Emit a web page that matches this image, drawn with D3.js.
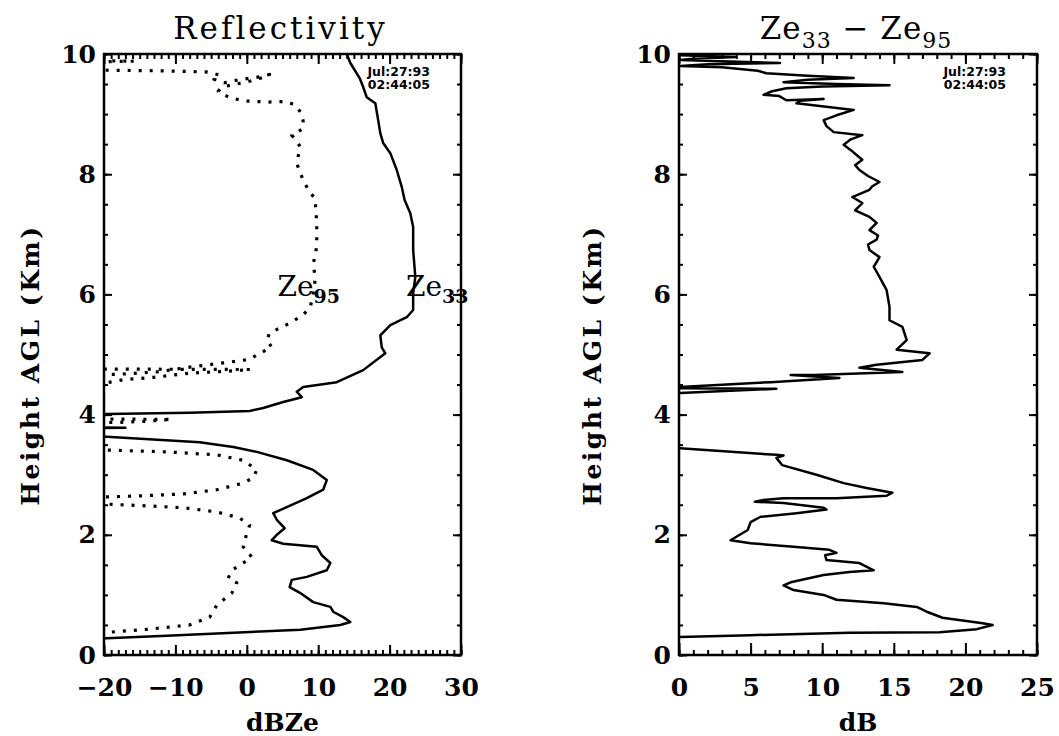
<!DOCTYPE html>
<html>
<head>
<meta charset="utf-8">
<script src="https://cdn.jsdelivr.net/npm/d3@7"></script>
<style>
  body { margin: 0; background: #fff; }
  text { font-family: "DejaVu Serif", serif; fill: #000; }
  .line { fill: none; stroke: #000; stroke-width: 2.5; stroke-linejoin: round; }
  .dots { stroke-width: 3.2; stroke-dasharray: 3, 8; }
  .stamp { font-family: "DejaVu Sans", sans-serif; font-weight: bold; font-size: 12.5px; }
</style>
</head>
<body>
<script>
// [height km, value] pairs; values below the axis (-25) mean no echo
const ze33Profile = [
  [10.3,13.3],[10.0,14.0],[9.85,14.5],[9.60,15.8],[9.45,16.3],[9.28,16.8],[9.18,18.0],[8.90,18.4],
  [8.68,18.7],[8.52,19.1],[8.35,20.1],[8.07,21.0],[7.79,21.7],[7.57,22.1],[7.35,22.9],[7.12,23.3],
  [6.74,23.3],[6.29,23.6],[6.02,23.3],[5.74,23.3],[5.62,22.4],[5.49,20.1],[5.32,18.7],[5.12,18.9],
  [5.02,19.4],[4.74,16.3],[4.54,12.6],[4.46,7.9],[4.38,7.0],[4.29,7.7],[4.21,5.1],[4.11,2.3],
  [4.06,0.4],[4.03,-8.0],[4.01,-19.6],[4.00,-25],[3.79,-25],[3.78,-17],[3.77,-25],[3.64,-25],
  [3.63,-19.6],[3.54,-6.6],[3.46,-1.9],[3.38,1.4],[3.24,5.6],[3.08,9.3],[2.91,11.2],[2.75,10.7],
  [2.61,8.4],[2.46,5.6],[2.36,3.7],[2.25,4.2],[2.11,5.3],[2.00,4.2],[1.91,3.5],[1.85,5.1],
  [1.80,9.8],[1.66,10.5],[1.53,11.7],[1.41,11.2],[1.30,8.4],[1.25,6.3],[1.13,6.0],[1.03,7.5],
  [0.88,9.3],[0.80,11.7],[0.72,12.1],[0.63,13.5],[0.55,14.5],[0.50,13.1],[0.42,7.5],[0.37,-1.9],
  [0.32,-11.2],[0.28,-19.6],[0.27,-25]
];

const ze95Profile = [
  [9.90,-25],[9.89,-20],[9.88,-15.8],[9.86,-25],[9.74,-25],
  [9.73,-19.6],[9.72,-12],[9.70,-5.5],[9.65,-3.8],[9.58,-4.6],[9.52,-3.2],[9.57,-1.2],[9.62,1.8],
  [9.66,3.2],[9.60,2.0],[9.55,0.5],[9.50,-1.5],[9.45,-3.5],[9.38,-4.0],[9.28,-2.5],[9.22,-0.5],
  [9.20,3.0],[9.21,5.5],[9.15,6.8],[9.02,7.6],[8.88,7.9],[8.75,7.8],[8.65,6.3],[8.55,7.0],
  [8.45,7.5],[8.30,7.2],[8.18,7.0],[8.02,7.5],[7.90,7.9],[7.74,8.6],[7.60,9.5],[7.40,9.7],
  [7.10,9.8],[6.80,9.8],[6.50,9.3],[6.27,9.6],[6.02,9.3],[5.79,8.9],[5.66,7.9],[5.52,6.0],
  [5.45,4.8],[5.36,3.2],[5.24,2.8],[5.12,3.5],[5.02,1.8],[4.92,0.4],[4.86,-3.3],[4.79,-8.0],
  [4.71,-12.6],[4.67,-18.2],[4.66,-25],[4.76,-25],[4.75,0.5],[4.72,-3.0],[4.69,-8.0],[4.62,-13.0],
  [4.58,-17.3],[4.53,-19.6],[4.52,-25],[3.93,-25],[3.92,-10.5],[3.89,-14.0],[3.87,-18.0],[3.86,-25],
  [3.42,-25],[3.41,-19.6],[3.38,-11.2],[3.33,-4.2],[3.24,-0.5],[3.08,1.4],[2.95,0.9],[2.86,-0.5],
  [2.75,-4.2],[2.68,-8.9],[2.65,-14.5],[2.63,-19.6],[2.62,-25],[2.52,-25],[2.51,-19.6],[2.48,-13.6],
  [2.45,-8.9],[2.38,-4.2],[2.28,-1.0],[2.16,0.4],[2.03,0.0],[1.80,-0.5],[1.63,0.7],[1.53,-0.5],
  [1.41,-2.1],[1.28,-2.6],[1.20,-1.4],[1.03,-2.1],[0.83,-4.2],[0.63,-5.2],[0.50,-8.0],[0.43,-13.6],
  [0.38,-19.2],[0.37,-25]
];

const diffProfile = [
  [10.05,-1],[9.98,0.1],[9.95,4.0],[9.92,1.0],[9.90,0.1],[9.88,3.0],[9.85,7.05],[9.83,2.0],
  [9.80,0.1],[9.78,3.0],[9.72,5.5],[9.68,6.1],[9.64,9.0],[9.60,12.2],[9.57,9.0],[9.53,7.3],
  [9.50,11.0],[9.48,14.7],[9.46,10.0],[9.43,7.5],[9.38,6.5],[9.32,5.9],[9.30,7.0],[9.23,7.5],
  [9.25,10.1],[9.22,8.5],[9.18,8.2],[9.07,12.2],[8.98,11.0],[8.90,10.1],[8.80,10.3],[8.70,10.8],
  [8.65,12.8],[8.58,12.0],[8.49,11.5],[8.40,12.0],[8.32,12.4],[8.24,12.8],[8.15,12.3],[8.07,12.6],
  [7.97,13.2],[7.87,14.0],[7.80,13.5],[7.74,13.3],[7.62,12.1],[7.52,12.8],[7.40,12.3],[7.29,13.3],
  [7.19,13.8],[7.07,13.3],[6.98,13.9],[6.91,13.8],[6.83,13.2],[6.74,13.3],[6.62,14.0],[6.46,13.6],
  [6.29,14.0],[6.07,14.5],[5.79,14.7],[5.57,14.7],[5.46,15.6],[5.24,15.9],[5.08,15.2],[5.02,17.5],
  [4.91,17.0],[4.83,13.8],[4.78,12.6],[4.71,15.6],[4.66,9.4],[4.66,7.8],[4.61,11.2],[4.54,6.4],
  [4.46,0.07],[4.45,-1],[4.44,-1],[4.43,6.8],[4.36,0.07],[4.35,-1],
  [3.45,-1],[3.44,0.07],[3.33,6.8],[3.32,7.3],[3.28,6.8],[3.16,7.2],[3.00,9.6],[2.86,11.5],
  [2.78,13.1],[2.70,14.9],[2.65,14.5],[2.61,11.0],[2.61,7.3],[2.58,5.9],[2.55,5.3],[2.53,7.3],
  [2.45,10.1],[2.42,10.3],[2.36,8.2],[2.30,5.7],[2.21,5.0],[2.08,4.8],[1.91,3.6],[1.86,5.0],
  [1.80,8.0],[1.75,10.5],[1.70,11.0],[1.66,10.2],[1.58,10.3],[1.53,12.6],[1.41,13.6],[1.38,11.9],
  [1.33,10.1],[1.21,7.8],[1.16,7.3],[1.08,8.0],[1.00,10.1],[0.92,11.0],[0.86,14.3],[0.80,16.6],
  [0.72,17.3],[0.62,18.4],[0.53,21.2],[0.50,21.9],[0.43,20.8],[0.38,18.2],[0.37,11.9],[0.33,5.0],
  [0.30,0.07],[0.29,-1]
];

const heightTicks = [0, 2, 4, 6, 8, 10];
const dbzTicks = [-20, -10, 0, 10, 20, 30];
const dbTicks = [0, 5, 10, 15, 20, 25];
const stampLines = ["Jul:27:93", "02:44:05"];

const W = 1059, H = 736;
const plotTop = 54, plotBottom = 655;

const svg = d3.select("body").append("svg")
  .attr("width", W)
  .attr("height", H);
svg.append("rect").attr("width", W).attr("height", H).attr("fill", "#fff");

function panel(o) {
  const x = d3.scaleLinear().domain(o.xDomain).range([o.left, o.right]);
  const y = d3.scaleLinear().domain([0, 10]).range([plotBottom, plotTop]);
  const g = svg.append("g");

  g.append("clipPath").attr("id", "clip-" + o.id)
    .append("rect")
    .attr("x", o.left).attr("y", plotTop)
    .attr("width", o.right - o.left).attr("height", plotBottom - plotTop);

  const line = d3.line()
    .x(d => x(d[1]))
    .y(d => y(d[0]));

  o.series.forEach(s => {
    g.append("path")
      .datum(s.data)
      .attr("class", "line " + (s.cls || ""))
      .attr("clip-path", "url(#clip-" + o.id + ")")
      .attr("d", line);
  });

  // ticks: inward on all four sides, like the old plotting package
  function ticks(axis, tr, vals, size, labels) {
    const a = axis.tickValues(vals).tickSize(-size).tickSizeOuter(0);
    if (!labels) a.tickFormat("");
    const ag = g.append("g").attr("transform", tr).call(a);
    ag.select(".domain").remove();
    ag.selectAll("line").attr("stroke", "#000").attr("stroke-width", 2);
    return ag;
  }
  const minorX = d3.range(o.xDomain[0], o.xDomain[1] + 0.001, o.minorStep);
  const minorY = d3.range(0, 10.001, 0.5);

  ticks(d3.axisBottom(x), `translate(0,${plotBottom})`, minorX, 5);
  ticks(d3.axisTop(x), `translate(0,${plotTop})`, minorX, 5);
  ticks(d3.axisTop(x), `translate(0,${plotTop})`, o.xTicks, 10);
  ticks(d3.axisLeft(y), `translate(${o.left},0)`, minorY, 4);
  ticks(d3.axisRight(y), `translate(${o.right},0)`, minorY, 4);
  ticks(d3.axisRight(y), `translate(${o.right},0)`, heightTicks, 8);

  const xa = ticks(d3.axisBottom(x).tickPadding(23), `translate(0,${plotBottom})`, o.xTicks, o.majorLen, true);
  xa.selectAll("text").attr("font-family", "DejaVu Serif").attr("font-size", 25).attr("font-weight", "bold");
  const ya = ticks(d3.axisLeft(y).tickPadding(8), `translate(${o.left},0)`, heightTicks, 8, true);
  ya.selectAll("text").attr("font-family", "DejaVu Serif").attr("font-size", 25).attr("font-weight", "bold");

  // frame
  g.append("rect")
    .attr("x", o.left).attr("y", plotTop)
    .attr("width", o.right - o.left).attr("height", plotBottom - plotTop)
    .attr("fill", "none").attr("stroke", "#000").attr("stroke-width", 2.5);

  // titles
  const cx = (o.left + o.right) / 2;
  const t = g.append("text")
    .attr("x", cx - 2).attr("y", 39)
    .attr("text-anchor", "middle")
    .attr("font-size", 31)
    .attr("letter-spacing", o.titleSpacing);
  o.title.forEach(p => {
    t.append("tspan")
      .attr("font-size", p.sub ? 22 : 31)
      .attr("dy", p.sub ? 9 : (p.back ? -9 : 0))
      .text(p.text);
  });

  g.append("text")
    .attr("x", cx).attr("y", 731)
    .attr("text-anchor", "middle")
    .attr("font-size", 25)
    .attr("font-weight", "bold")
    .text(o.xLabel);

  g.append("text")
    .attr("transform", `translate(${o.left - o.yLabelGap},365) rotate(-90)`)
    .attr("text-anchor", "middle")
    .attr("dy", "0.35em")
    .attr("font-size", 25)
    .attr("font-weight", "bold")
    .attr("letter-spacing", 2.5)
    .text("Height AGL (Km)");

  // date stamp
  stampLines.forEach((s, i) => {
    g.append("text").attr("class", "stamp")
      .attr("x", o.right - 31).attr("y", 76 + i * 13)
      .attr("text-anchor", "end")
      .text(s);
  });

  (o.curveLabels || []).forEach(l => {
    const lt = g.append("text")
      .attr("x", x(l.v)).attr("y", y(l.h))
      .attr("font-size", 28);
    lt.append("tspan").text(l.text);
    lt.append("tspan").attr("font-size", 19).attr("font-weight", "bold").attr("dy", 7).text(l.sub);
  });
}

panel({
  id: "refl",
  left: 104, right: 461,
  xDomain: [-20, 30], xTicks: dbzTicks, minorStep: 1, majorLen: 10,
  xLabel: "dBZe", yLabelGap: 74, titleSpacing: 3,
  title: [{text: "Reflectivity"}],
  series: [
    {data: ze95Profile, cls: "dots"},
    {data: ze33Profile}
  ],
  curveLabels: [
    {text: "Ze", sub: "95", v: 4.3, h: 5.98},
    {text: "Ze", sub: "33", v: 22.3, h: 5.98}
  ]
});

panel({
  id: "diff",
  left: 679, right: 1037,
  xDomain: [0, 25], xTicks: dbTicks, minorStep: 1, majorLen: 12,
  xLabel: "dB", yLabelGap: 87, titleSpacing: 1,
  title: [{text: "Ze"}, {text: "33", sub: true}, {text: " − Ze", back: true}, {text: "95", sub: true}],
  series: [
    {data: diffProfile}
  ]
});
</script>
</body>
</html>
